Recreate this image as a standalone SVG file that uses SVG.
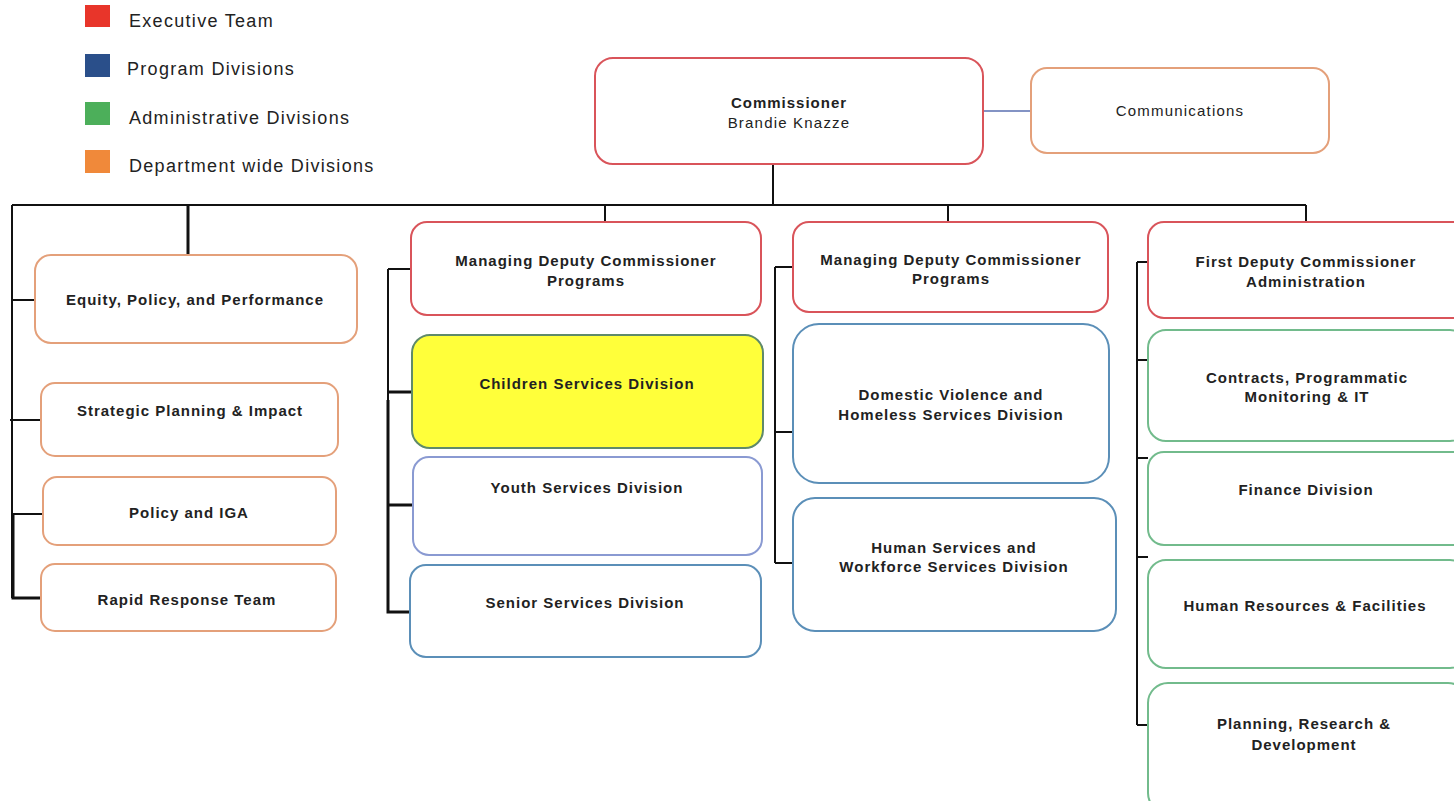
<svg xmlns="http://www.w3.org/2000/svg" width="1454" height="801" viewBox="0 0 1454 801">
<style>
text{font-family:"Liberation Sans",Arial,sans-serif;fill:#222}
.n{font-size:15px;font-weight:bold;text-anchor:middle;letter-spacing:1px}
.r{font-size:15px;text-anchor:middle;letter-spacing:1.2px}
.lg{font-size:18px;letter-spacing:1.3px}
.box{fill:#fff;stroke-width:2}
.red{stroke:#d9545a}
.org{stroke:#e4a07a}
.blu{stroke:#5b8fb8}
.grn{stroke:#72bb8c}
.c{fill:none;stroke:#111;stroke-width:2}
.ct{fill:none;stroke:#111;stroke-width:3}
</style>
<rect width="1454" height="801" fill="#fff"/>
<g id="legend">
<rect x="85" y="5" width="25" height="22" fill="#e8352a"/>
<rect x="85" y="54" width="25" height="23" fill="#2a4f8a"/>
<rect x="85" y="102" width="25" height="23" fill="#4caf5a"/>
<rect x="85" y="150" width="25" height="23" fill="#f0893a"/>
<text class="lg" x="129" y="27">Executive Team</text>
<text class="lg" x="127" y="75">Program Divisions</text>
<text class="lg" x="129" y="124">Administrative Divisions</text>
<text class="lg" x="129" y="172">Department wide Divisions</text>
</g>
<g id="connectors">
<line x1="983" y1="111" x2="1031" y2="111" stroke="#5a6fb0" stroke-width="1.5"/>
<path class="c" d="M773 164V205M12 205H1306M12 205V598M605 205V222M948 205V222M1306 205V223"/>
<path class="ct" d="M188 205V256"/>
<path class="c" d="M13 300H35M10 420H41M13 514H43"/>
<path class="ct" d="M13 514V598H41"/>
<path class="c" d="M388 269V612M388 269H411"/>
<path class="ct" d="M388 392H412M388 505H412M388 400V612H412"/>
<path class="c" d="M775 267V563M775 267H793M775 432H793M775 563H793"/>
<path class="c" d="M1137 262V725M1137 262H1148M1137 360H1148M1137 458H1148M1137 557H1148M1137 725H1148"/>
</g>
<g id="commissioner"><rect class="box red" x="595" y="58" width="388" height="106" rx="18"/>
<text class="n" x="789" y="108">Commissioner</text><text class="r" x="789" y="128">Brandie Knazze</text></g>
<g id="communications"><rect class="box org" x="1031" y="68" width="298" height="85" rx="16"/>
<text class="r" x="1180" y="116">Communications</text></g>
<g id="equity"><rect class="box org" x="35" y="255" width="322" height="88" rx="16"/><text class="n" x="195" y="305">Equity, Policy, and Performance</text></g>
<g id="strategic"><rect class="box org" x="41" y="383" width="297" height="73" rx="14"/><text class="n" x="190" y="416">Strategic Planning &amp; Impact</text></g>
<g id="policy"><rect class="box org" x="43" y="477" width="293" height="68" rx="14"/><text class="n" x="189" y="518">Policy and IGA</text></g>
<g id="rapid"><rect class="box org" x="41" y="564" width="295" height="67" rx="14"/><text class="n" x="187" y="605">Rapid Response Team</text></g>
<g id="mdc1"><rect class="box red" x="411" y="222" width="350" height="93" rx="16"/><text class="n" x="586" y="266">Managing Deputy Commissioner</text><text class="n" x="586" y="286">Programs</text></g>
<g id="children"><rect x="412" y="335" width="351" height="113" rx="18" fill="#ffff3a" stroke="#5f8a6a" stroke-width="2"/><text class="n" x="587" y="389">Children Services Division</text></g>
<g id="youth"><rect class="box" x="413" y="457" width="349" height="98" rx="16" stroke="#8a9ad2"/><text class="n" x="587" y="493">Youth Services Division</text></g>
<g id="senior"><rect class="box blu" x="410" y="565" width="351" height="92" rx="16"/><text class="n" x="585" y="608">Senior Services Division</text></g>
<g id="mdc2"><rect class="box red" x="793" y="222" width="315" height="90" rx="16"/><text class="n" x="951" y="265">Managing Deputy Commissioner</text><text class="n" x="951" y="284">Programs</text></g>
<g id="dv"><rect class="box blu" x="793" y="324" width="316" height="159" rx="26"/><text class="n" x="951" y="400">Domestic Violence and</text><text class="n" x="951" y="420">Homeless Services Division</text></g>
<g id="hs"><rect class="box blu" x="793" y="498" width="323" height="133" rx="22"/><text class="n" x="954" y="553">Human Services and</text><text class="n" x="954" y="572">Workforce Services Division</text></g>
<g id="fdc"><rect class="box red" x="1148" y="222" width="320" height="96" rx="16"/><text class="n" x="1306" y="267">First Deputy Commissioner</text><text class="n" x="1306" y="287">Administration</text></g>
<g id="contracts"><rect class="box grn" x="1148" y="330" width="320" height="111" rx="18"/><text class="n" x="1307" y="383">Contracts, Programmatic</text><text class="n" x="1307" y="402">Monitoring &amp; IT</text></g>
<g id="finance"><rect class="box grn" x="1148" y="452" width="320" height="93" rx="16"/><text class="n" x="1306" y="495">Finance Division</text></g>
<g id="hr"><rect class="box grn" x="1148" y="560" width="320" height="108" rx="18"/><text class="n" x="1305" y="611">Human Resources &amp; Facilities</text></g>
<g id="planning"><rect class="box grn" x="1148" y="683" width="320" height="130" rx="20"/><text class="n" x="1304" y="729">Planning, Research &amp;</text><text class="n" x="1304" y="750">Development</text></g>
</svg>
